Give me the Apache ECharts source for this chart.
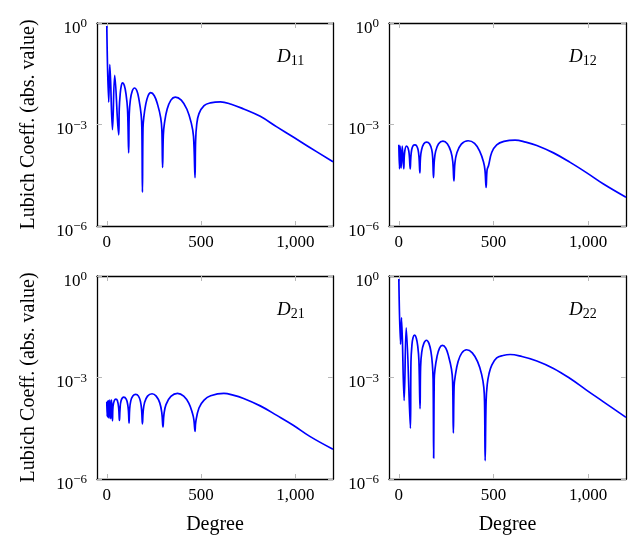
<!DOCTYPE html>
<html>
<head>
<meta charset="utf-8">
<title>Lubich coefficients</title>
<script src="https://cdn.jsdelivr.net/npm/echarts/dist/echarts.min.js"></script>
<style>
    html, body { margin: 0; padding: 0; background: #ffffff; }
    #chart_lubich { width: 634px; height: 551px; }
</style>
</head>
<body>
<div id="chart_lubich"></div>
<script>
/* degree, |coefficient| */
var d11Data = [
    [0, 0.81], [10, 4.57e-3], [16, 5.89e-2], [30, 7.08e-4], [42, 2.82e-2], [63, 4.90e-4],
    [66, 2.82e-3], [71, 7.94e-3], [77, 1.41e-2], [84, 1.70e-2], [93, 1.41e-2], [102, 7.94e-3], [110, 2.82e-3], [116, 1.45e-4],
    [119, 2.00e-3], [125, 5.37e-3], [135, 9.77e-3], [147, 1.20e-2], [160, 9.77e-3], [171, 5.37e-3], [182, 2.00e-3], [186, 7.94e-4], [189, 1.0e-5],
    [192, 7.94e-4], [196, 1.58e-3], [206, 3.80e-3], [219, 7.08e-3], [233, 8.71e-3], [252, 7.08e-3], [270, 3.80e-3], [286, 1.58e-3], [292, 7.08e-4], [296, 5.37e-5],
    [300, 5.01e-4], [306, 1.12e-3], [320, 2.82e-3], [340, 5.25e-3], [363, 6.46e-3], [395, 5.25e-3], [425, 2.82e-3], [448, 1.12e-3], [460, 4.47e-4], [468, 2.69e-5],
    [471, 3.16e-4], [477, 1.0e-3], [489, 2.09e-3], [516, 3.63e-3], [550, 4.37e-3], [603, 4.68e-3], [660, 3.98e-3],
    [726, 2.88e-3], [814, 1.74e-3], [902, 8.51e-4], [989, 4.27e-4], [1077, 2.09e-4], [1200, 7.94e-5]
];
var d12Data = [
    [0, 2.51e-4], [3.5, 4.90e-5], [7, 2.29e-4], [12, 5.13e-5], [18, 2.29e-4], [26, 4.90e-5],
    [30, 1.41e-4], [40, 2.29e-4], [49, 2.00e-4], [55, 1.26e-4], [60, 4.90e-5],
    [63, 1.0e-4], [68, 1.82e-4], [76, 2.40e-4], [85, 2.51e-4], [94, 2.34e-4], [102, 1.74e-4], [107, 1.0e-4], [111, 3.72e-5],
    [114, 1.0e-4], [120, 1.78e-4], [132, 2.69e-4], [147, 3.02e-4], [162, 2.69e-4], [174, 1.78e-4], [179, 1.0e-4], [183, 2.69e-5],
    [187, 7.94e-5], [194, 1.58e-4], [210, 2.69e-4], [233, 3.24e-4], [256, 2.69e-4], [275, 1.58e-4], [285, 7.94e-5], [291, 2.14e-5],
    [296, 7.08e-5], [306, 1.41e-4], [330, 2.63e-4], [366, 3.31e-4], [400, 2.75e-4], [428, 1.58e-4], [447, 7.94e-5], [455, 4.47e-5], [461, 1.38e-5],
    [466, 4.47e-5], [474, 6.17e-5], [491, 1.51e-4], [517, 2.51e-4], [555, 3.16e-4], [614, 3.47e-4], [670, 3.02e-4],
    [729, 2.40e-4], [817, 1.45e-4], [905, 7.59e-5], [993, 3.72e-5], [1081, 1.74e-5], [1200, 7.08e-6]
];
var d21Data = [
    [0, 1.91e-4], [2, 7.08e-5], [4, 2.00e-4], [6.5, 6.61e-5], [9, 2.09e-4], [12, 6.31e-5], [16, 2.19e-4], [21, 6.03e-5], [25, 2.19e-4], [30, 5.25e-5],
    [33, 1.41e-4], [40, 2.09e-4], [48, 2.29e-4], [56, 2.09e-4], [63, 1.26e-4], [67, 5.37e-5],
    [70, 1.12e-4], [76, 2.09e-4], [90, 2.63e-4], [103, 2.29e-4], [111, 1.58e-4], [115, 1.0e-4], [118, 4.47e-5],
    [121, 1.12e-4], [127, 2.00e-4], [138, 2.82e-4], [153, 3.16e-4], [168, 2.82e-4], [179, 1.91e-4], [185, 1.05e-4], [189, 4.27e-5],
    [193, 1.0e-4], [200, 1.78e-4], [216, 2.82e-4], [240, 3.31e-4], [262, 2.82e-4], [281, 1.78e-4], [292, 8.91e-5], [298, 3.47e-5],
    [303, 7.94e-5], [314, 1.58e-4], [340, 2.75e-4], [375, 3.39e-4], [408, 2.82e-4], [435, 1.74e-4], [454, 8.91e-5], [462, 5.62e-5], [468, 2.57e-5],
    [472, 4.90e-5], [489, 1.26e-4], [516, 2.14e-4], [551, 2.88e-4], [621, 3.39e-4], [670, 3.02e-4],
    [726, 2.40e-4], [814, 1.45e-4], [902, 7.59e-5], [989, 3.89e-5], [1077, 1.82e-5], [1200, 7.59e-6]
];
var d22Data = [
    [0, 0.81], [9, 9.55e-3], [14, 5.89e-2], [28, 2.09e-4], [39, 2.95e-2], [61, 3.16e-5],
    [64, 2.82e-3], [69, 8.91e-3], [75, 1.51e-2], [83, 1.78e-2], [92, 1.48e-2], [100, 8.32e-3], [106, 3.16e-3], [112, 1.20e-4],
    [115, 2.09e-3], [121, 5.62e-3], [132, 1.02e-2], [146, 1.26e-2], [159, 1.02e-2], [170, 5.62e-3], [177, 2.51e-3], [181, 8.91e-4], [184, 4.17e-6],
    [187, 8.91e-4], [191, 1.78e-3], [201, 3.98e-3], [215, 7.41e-3], [230, 8.91e-3], [248, 7.41e-3], [264, 3.98e-3], [278, 1.78e-3], [284, 7.94e-4], [288, 2.29e-5],
    [292, 5.62e-4], [298, 1.12e-3], [312, 2.82e-3], [332, 5.25e-3], [358, 6.61e-3], [388, 5.37e-3], [416, 2.95e-3], [437, 1.26e-3], [449, 5.01e-4], [453, 1.58e-4], [456, 3.47e-6],
    [461, 2.00e-4], [467, 6.31e-4], [476, 1.26e-3], [491, 2.34e-3], [517, 3.80e-3], [550, 4.47e-3], [588, 4.79e-3], [650, 4.17e-3],
    [729, 3.09e-3], [817, 1.86e-3], [905, 9.33e-4], [993, 4.17e-4], [1081, 1.91e-4], [1200, 6.61e-5]
];

var panelNames = ['11', '12', '21', '22'];
var panelData = [d11Data, d12Data, d21Data, d22Data];
var xTickValues = [0, 500, 1000];
var yTickValues = [1e-6, 1e-3, 1];
var xMin = -52;
var xMax = 1200;

var fontFamily = 'Liberation Serif';
var gridPos = [
    { left: 97, top: 23, width: 236, height: 203 },
    { left: 389, top: 23, width: 237, height: 203 },
    { left: 97, top: 276, width: 236, height: 203 },
    { left: 389, top: 276, width: 237, height: 203 }
];
var labelPos = [
    { left: 277, top: 46 },
    { left: 569, top: 46 },
    { left: 277, top: 299 },
    { left: 569, top: 299 }
];

function extend(a, b) {
    for (var k in b) { a[k] = b[k]; }
    return a;
}

function boxLine() {
    return { show: true, onZero: false, lineStyle: { color: '#000000', width: 1.3 } };
}

function tickStyle(values) {
    return {
        show: true,
        inside: true,
        length: 5,
        customValues: values,
        lineStyle: { color: '#b8b8b8', width: 1 }
    };
}

function xLabel(v) {
    return v.toLocaleString('en-US');
}

function yLabel(v) {
    var e = Math.round(Math.log(v) / Math.LN10);
    var s = e < 0 ? '\u2212' + (-e) : '' + e;
    return '{b|10}{s|' + s + '}';
}

var chart_lubich = null;
function initChart() {
    chart_lubich = echarts.init(document.getElementById('chart_lubich'));

    var grids = [], xAxes = [], yAxes = [], series = [], titles = [];
    for (var i = 0; i < 4; i++) {
        grids.push(extend({ show: false }, gridPos[i]));

        var bottomRow = i >= 2;
        var leftCol = i % 2 === 0;

        xAxes.push({
            type: 'value',
            gridIndex: i,
            min: xMin,
            max: xMax,
            position: 'bottom',
            axisLine: boxLine(),
            splitLine: { show: false },
            axisTick: tickStyle(xTickValues),
            axisLabel: {
                customValues: xTickValues,
                formatter: xLabel,
                margin: 8,
                color: '#000000',
                fontFamily: fontFamily,
                fontSize: 17
            },
            name: bottomRow ? 'Degree' : '',
            nameLocation: 'middle',
            nameGap: 36,
            nameTextStyle: { color: '#000000', fontFamily: fontFamily, fontSize: 20 }
        });
        xAxes.push({
            type: 'value',
            gridIndex: i,
            min: xMin,
            max: xMax,
            position: 'top',
            axisLine: boxLine(),
            splitLine: { show: false },
            axisTick: tickStyle(xTickValues),
            axisLabel: { show: false, customValues: xTickValues }
        });

        yAxes.push({
            type: 'log',
            logBase: 10,
            gridIndex: i,
            min: 1e-6,
            max: 1,
            position: 'left',
            axisLine: boxLine(),
            splitLine: { show: false },
            axisTick: tickStyle(yTickValues),
            axisLabel: {
                customValues: yTickValues,
                formatter: yLabel,
                margin: 10,
                padding: [11, 0, 0, 0],
                rich: {
                    b: { fontFamily: fontFamily, fontSize: 17, color: '#000000' },
                    s: { fontFamily: fontFamily, fontSize: 13, color: '#000000', padding: [0, 0, 9, 0] }
                }
            },
            name: leftCol ? 'Lubich Coeff. (abs. value)' : '',
            nameLocation: 'middle',
            nameRotate: 90,
            nameGap: 58,
            nameTextStyle: { color: '#000000', fontFamily: fontFamily, fontSize: 20 }
        });
        yAxes.push({
            type: 'log',
            logBase: 10,
            gridIndex: i,
            min: 1e-6,
            max: 1,
            position: 'right',
            axisLine: boxLine(),
            splitLine: { show: false },
            axisTick: tickStyle(yTickValues),
            axisLabel: { show: false, customValues: yTickValues }
        });

        series.push({
            name: 'D' + panelNames[i],
            type: 'line',
            xAxisIndex: i * 2,
            yAxisIndex: i * 2,
            showSymbol: false,
            symbol: 'none',
            smooth: 0.4,
            clip: true,
            lineStyle: { color: '#0000ff', width: 1.7, join: 'round' },
            data: panelData[i]
        });

        titles.push({
            text: '{d|D}{s|' + panelNames[i] + '}',
            left: labelPos[i].left,
            top: labelPos[i].top,
            padding: 0,
            textStyle: {
                fontWeight: 'normal',
                rich: {
                    d: { fontFamily: fontFamily, fontSize: 19, fontStyle: 'italic', fontWeight: 'normal', color: '#000000' },
                    s: { fontFamily: fontFamily, fontSize: 14, fontWeight: 'normal', color: '#000000', padding: [8, 0, 0, 0] }
                }
            }
        });
    }

    var option = {
        backgroundColor: '#ffffff',
        animation: false,
        title: titles,
        grid: grids,
        xAxis: xAxes,
        yAxis: yAxes,
        series: series
    };
    chart_lubich.setOption(option);
}

initChart();
</script>
</body>
</html>
